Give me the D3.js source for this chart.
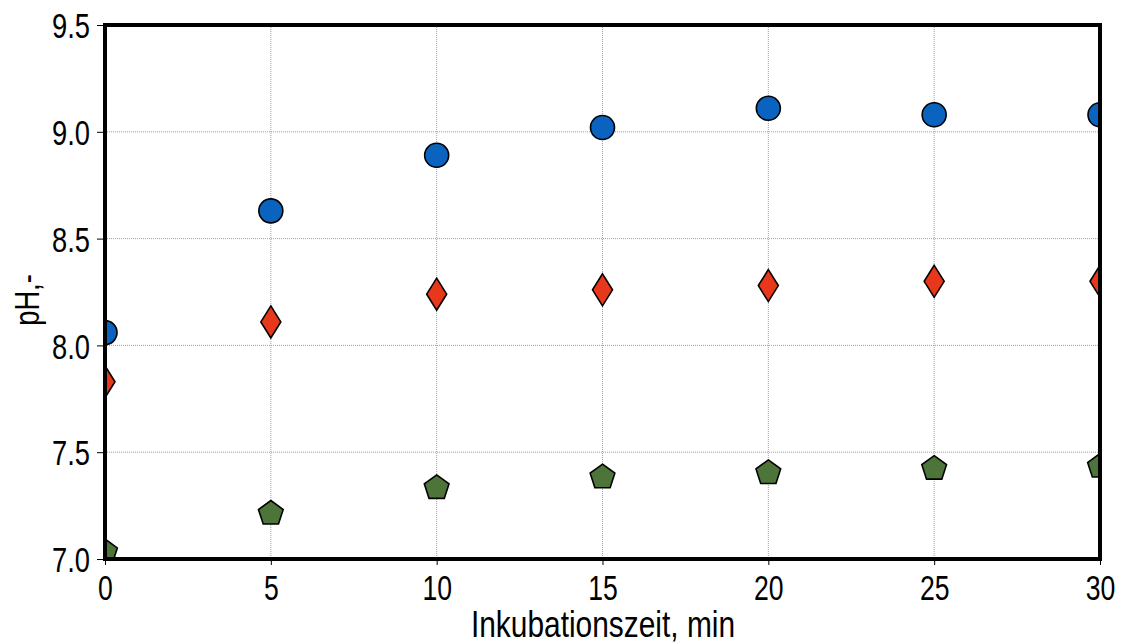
<!DOCTYPE html>
<html>
<head>
<meta charset="utf-8">
<script src="https://cdn.jsdelivr.net/npm/d3@7"></script>
<style>
  body { margin: 0; background: #fff; }
  text { font-family: "Liberation Sans", Arial, sans-serif; }
</style>
</head>
<body>
<div id="chart"></div>
<script>
const times = [0, 5, 10, 15, 20, 25, 30];
const seriesBlue = [8.06, 8.63, 8.89, 9.02, 9.11, 9.08, 9.08];
const seriesRed = [7.83, 8.11, 8.24, 8.26, 8.28, 8.30, 8.30];
const seriesGreen = [7.04, 7.22, 7.34, 7.39, 7.41, 7.43, 7.44];
const xTicks = [0, 5, 10, 15, 20, 25, 30];
const yTicks = [7.0, 7.5, 8.0, 8.5, 9.0, 9.5];

const width = 1123;
const height = 643;
const margin = { top: 25, right: 23, bottom: 84, left: 105 };
const innerW = width - margin.left - margin.right;
const innerH = height - margin.top - margin.bottom;

// narrow look of the original font
function narrow(sel, squeeze) {
    sel.each(function () {
        const len = this.getComputedTextLength();
        d3.select(this)
            .attr("textLength", len * squeeze)
            .attr("lengthAdjust", "spacingAndGlyphs");
    });
}

const svg = d3.select("#chart")
    .append("svg")
    .attr("width", width)
    .attr("height", height);

const g = svg.append("g")
    .attr("transform", `translate(${margin.left},${margin.top})`);

const x = d3.scaleLinear().domain([0, 30]).range([0, innerW]);
const y = d3.scaleLinear().domain([7.0, 9.5]).range([innerH, 0]);

// Gridlines
g.selectAll(".vgrid")
    .data(xTicks.slice(1, -1))
    .enter()
    .append("line")
    .attr("x1", d => x(d))
    .attr("x2", d => x(d))
    .attr("y1", 0)
    .attr("y2", innerH)
    .attr("stroke", "#888")
    .attr("stroke-width", 0.8)
    .attr("stroke-dasharray", "1,1");

g.selectAll(".hgrid")
    .data(yTicks.slice(1, -1))
    .enter()
    .append("line")
    .attr("x1", 0)
    .attr("x2", innerW)
    .attr("y1", d => y(d))
    .attr("y2", d => y(d))
    .attr("stroke", "#888")
    .attr("stroke-width", 0.8)
    .attr("stroke-dasharray", "1,1");

// Axes
const xAxis = g.append("g")
    .attr("transform", `translate(0,${innerH})`)
    .call(d3.axisBottom(x).tickValues(xTicks).tickSize(6).tickPadding(10).tickFormat(d3.format("d")));
const yAxis = g.append("g")
    .call(d3.axisLeft(y).tickValues(yTicks).tickSize(8).tickPadding(7).tickFormat(d3.format(".1f")));

[xAxis, yAxis].forEach(a => {
    a.select(".domain").remove();
    a.selectAll(".tick line").attr("stroke", "#000").attr("stroke-width", 1);
    a.selectAll(".tick text")
        .attr("fill", "#000")
        .attr("font-size", "35px")
        .attr("font-family", "'Liberation Sans', Arial, sans-serif");
});
xAxis.selectAll(".tick text").attr("dy", "0.72em").call(narrow, 0.76);
yAxis.selectAll(".tick text").attr("dy", "0.36em").call(narrow, 0.78);

// Clip for markers
svg.append("defs").append("clipPath")
    .attr("id", "plot-clip")
    .append("rect")
    .attr("width", innerW)
    .attr("height", innerH);

const marks = g.append("g").attr("clip-path", "url(#plot-clip)");

function pentPath(r) {
    const pts = d3.range(5).map(i => {
        const a = -Math.PI / 2 + i * 2 * Math.PI / 5;
        return [r * Math.cos(a), r * Math.sin(a)];
    });
    return "M" + pts.map(p => p.join(",")).join("L") + "Z";
}

// Green pentagons
marks.selectAll(".green")
    .data(times.map((t, i) => ({ t, v: seriesGreen[i] })))
    .enter()
    .append("path")
    .attr("d", pentPath(13))
    .attr("transform", d => `translate(${x(d.t)},${y(d.v) + 1.5})`)
    .attr("fill", "#4d7439")
    .attr("stroke", "#000")
    .attr("stroke-width", 1.6);

// Red diamonds
marks.selectAll(".red")
    .data(times.map((t, i) => ({ t, v: seriesRed[i] })))
    .enter()
    .append("path")
    .attr("d", "M0,-16L10,0L0,16L-10,0Z")
    .attr("transform", d => `translate(${x(d.t)},${y(d.v)})`)
    .attr("fill", "#e8381c")
    .attr("stroke", "#000")
    .attr("stroke-width", 1.6);

// Blue circles
marks.selectAll(".blue")
    .data(times.map((t, i) => ({ t, v: seriesBlue[i] })))
    .enter()
    .append("circle")
    .attr("cx", d => x(d.t))
    .attr("cy", d => y(d.v))
    .attr("r", 12)
    .attr("fill", "#0a64bf")
    .attr("stroke", "#000")
    .attr("stroke-width", 1.6);

// Frame
g.append("rect")
    .attr("width", innerW)
    .attr("height", innerH)
    .attr("fill", "none")
    .attr("stroke", "#000")
    .attr("stroke-width", 4);

// Axis titles
svg.append("text")
    .attr("x", 603)
    .attr("y", 637)
    .attr("text-anchor", "middle")
    .attr("font-size", "36px")
    .attr("fill", "#000")
    .text("Inkubationszeit, min")
    .call(narrow, 0.83);

svg.append("text")
    .attr("transform", `translate(39,300) rotate(-90)`)
    .attr("text-anchor", "middle")
    .attr("font-size", "35px")
    .attr("fill", "#000")
    .text("pH,-")
    .call(narrow, 0.78);
</script>
</body>
</html>
